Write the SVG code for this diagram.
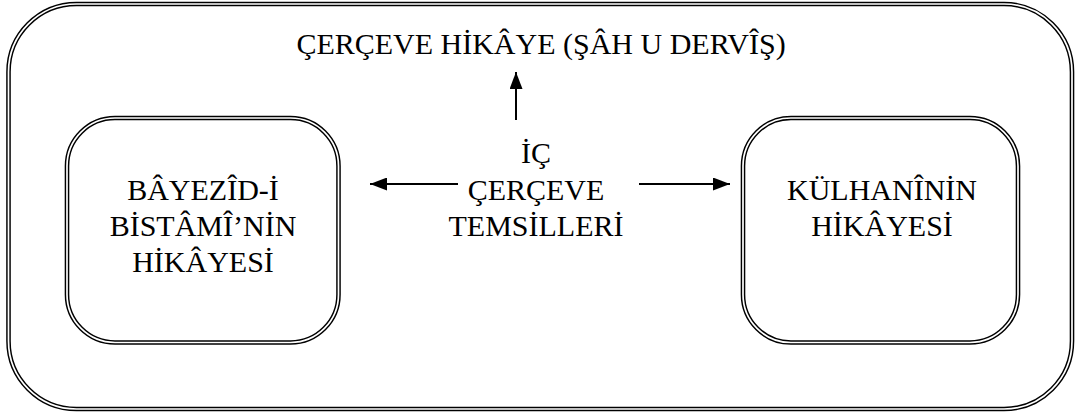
<svg xmlns="http://www.w3.org/2000/svg" width="1077" height="414" viewBox="0 0 1077 414">
<defs>
<style>
.dbl{fill:none;stroke:#000;stroke-width:4.6}
.gap{fill:none;stroke:#fff;stroke-width:1.7}
.t{font-family:"Liberation Serif","Times New Roman",serif;font-size:30px;fill:#000;text-anchor:middle}
.conn{stroke:#000;stroke-width:2;fill:none}
</style>
<marker id="ah" viewBox="0 0 17 13" refX="17" refY="6.5" markerWidth="17" markerHeight="13" markerUnits="userSpaceOnUse" orient="auto">
<path d="M0,0 L17,6.5 L0,13 Z" fill="#000"/>
</marker>
</defs>
<rect width="1077" height="414" fill="#fff"/>
<g id="frame">
<rect class="dbl" x="8.5" y="4" width="1063.5" height="405" rx="68" ry="68"/>
<rect class="gap" x="8.5" y="4" width="1063.5" height="405" rx="68" ry="68"/>
<text class="t" x="541" y="54">ÇERÇEVE HİKÂYE (ŞÂH U DERVÎŞ)</text>
</g>
<g id="inner-frame">
<text class="t" x="536"><tspan x="536" y="163">İÇ</tspan><tspan x="536" y="200">ÇERÇEVE</tspan><tspan x="536" y="236">TEMSİLLERİ</tspan></text>
</g>
<g id="bayezid">
<rect class="dbl" x="67" y="118" width="271.5" height="224.5" rx="48" ry="48"/>
<rect class="gap" x="67" y="118" width="271.5" height="224.5" rx="48" ry="48"/>
<text class="t"><tspan x="203" y="200">BÂYEZÎD-İ</tspan><tspan x="203" y="236">BİSTÂMÎ’NİN</tspan><tspan x="203" y="272">HİKÂYESİ</tspan></text>
</g>
<g id="kulhani">
<rect class="dbl" x="743" y="118" width="275" height="224.5" rx="48" ry="48"/>
<rect class="gap" x="743" y="118" width="275" height="224.5" rx="48" ry="48"/>
<text class="t"><tspan x="882" y="200">KÜLHANÎNİN</tspan><tspan x="882" y="236">HİKÂYESİ</tspan></text>
</g>
<g id="connectors">
<line class="conn" x1="516" y1="120" x2="516" y2="72" marker-end="url(#ah)"/>
<line class="conn" x1="458" y1="184" x2="370" y2="184" marker-end="url(#ah)"/>
<line class="conn" x1="639" y1="184" x2="730" y2="184" marker-end="url(#ah)"/>
</g>
</svg>
